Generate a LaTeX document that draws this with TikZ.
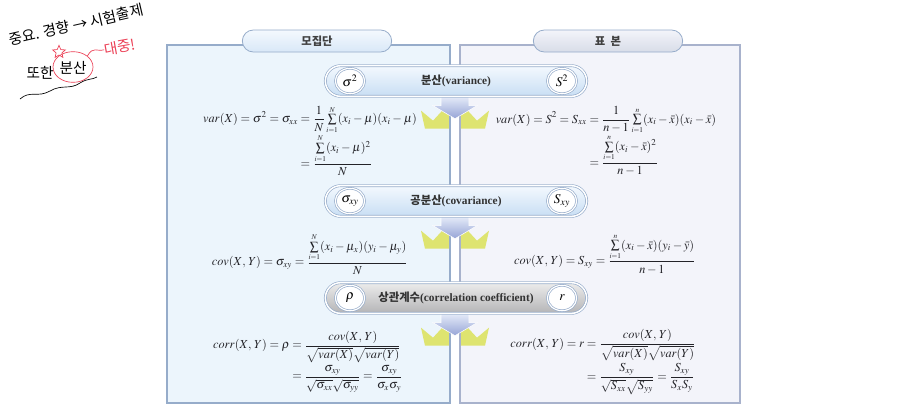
\documentclass[tikz,border=0pt]{standalone}
\usepackage{amsmath}
\usepackage{mathptmx}
\usepackage{fontspec}
\setmainfont{Liberation Serif}
\newfontfamily\kor{Noto Sans CJK KR}
\usetikzlibrary{
  shapes.geometric,
  shapes.misc,
  positioning,
  backgrounds,
  calc
}
\definecolor{PopFill}{RGB}{236,245,252}
\definecolor{PopEdge}{RGB}{150,172,202}
\definecolor{SampFill}{RGB}{243,244,250}
\definecolor{SampEdge}{RGB}{168,178,204}
\definecolor{PillTop}{RGB}{244,249,254}
\definecolor{PillBot}{RGB}{200,222,244}
\definecolor{GrayTop}{RGB}{236,236,236}
\definecolor{GrayBot}{RGB}{180,180,182}
\definecolor{CrownYel}{RGB}{222,228,112}
\definecolor{ArrTop}{RGB}{232,238,250}
\definecolor{ArrBot}{RGB}{150,164,214}
\definecolor{InkRed}{RGB}{236,64,86}
\definecolor{FmlInk}{RGB}{35,35,40}
\newcommand{\hfont}{\kor\fontsize{8.5}{10}\selectfont\bfseries}
\newcommand{\eng}[1]{{\rmfamily\bfseries #1}}
\newcommand{\smsum}[2]{\mathop{\textstyle\sum}\limits_{\scriptscriptstyle #1}^{\scriptscriptstyle #2}}
\tikzset{
  %% -- panels and tabs --
  popPanel/.style  = {fill = PopFill},
  sampPanel/.style = {fill = SampFill},
  tabbox/.style args = {#1/#2}{
    rounded rectangle, draw = PopEdge, line width = 0.6pt,
    top color = #1, bottom color = #2,
    minimum width = 112pt, minimum height = 16.5pt,
    font = \hfont, text = black!75
  },
  %% -- central pills --
  pillbox/.style args = {#1/#2}{
    rounded rectangle, draw = PopEdge, line width = 0.5pt,
    double = white, double distance = 1.1pt,
    top color = #1, bottom color = #2,
    minimum width = 196pt, minimum height = 23pt,
    font = \hfont, text = black!80
  },
  symbox/.style = {
    ellipse, draw = PopEdge, line width = 0.5pt,
    double = white, double distance = 0.9pt, fill = white,
    minimum width = 22pt, minimum height = 19pt,
    font = \fontsize{10}{12}\selectfont
  },
  %% -- formulas --
  fml/.style  = {font = \fontsize{9.2}{11}\selectfont, text = FmlInk},
  %% -- handwritten memo --
  memo/.style = {font = \kor\fontsize{11}{13}\selectfont},
}
%% yellow crown under a pill
\newcommand{\downflow}[1]{%
  \begin{scope}[shift={($(#1.south)+(-1,0)$)}]
    \fill[CrownYel] (-34,14) -- (-22,24) -- (-10,11) -- (0,19) -- (10,11)
      -- (22,24) -- (34,14) -- (30,32) -- (-30,32) -- cycle;
  \end{scope}}
%% arrow head under a pill
\newcommand{\downhead}[1]{%
  \begin{scope}[shift={($(#1.south)+(-1,0)$)}]
    \shade[top color = ArrTop, bottom color = ArrBot, draw = white, line width = 0.4pt]
      (-14,-1) -- (14,-1) -- (14,9) -- (22,9) -- (0,22) -- (-22,9) -- (-14,9) -- cycle;
  \end{scope}}

\begin{document}
\begin{tikzpicture}[x = 0.75pt, y = -0.75pt, every node/.style = {inner sep = 0pt}]

  \useasboundingbox (0,0) rectangle (921,411);

  %% -- central pills --
  \node[pillbox = {PillTop/PillBot}] (pvar) at (456,81)
    {분산\eng{(variance)}};
  \node[pillbox = {PillTop/PillBot}] (pcov) at (456,201)
    {공분산\eng{(covariance)}};
  \node[pillbox = {GrayTop/GrayBot}] (pcorr) at (456,298)
    {상관계수\eng{(correlation coefficient)}};

  \node[symbox] (svarP)  at (350,81)  {$\sigma^2$};
  \node[symbox] (svarS)  at (562,81)  {$S^2$};
  \node[symbox] (scovP)  at (350,201) {$\sigma_{xy}$};
  \node[symbox] (scovS)  at (562,201) {$S_{xy}$};
  \node[symbox] (scorrP) at (350,298) {$\rho$};
  \node[symbox] (scorrS) at (562,298) {$r$};

  \begin{scope}[on background layer]
    \fill[white] (0,0) rectangle (921,411);
    \fill[popPanel]  (167,45) rectangle (450,403);
    \fill[sampPanel] (460,45) rectangle (740,403);
    \foreach \p in {pvar, pcov, pcorr} {\downflow{\p}}
    \fill[white] (450,45) rectangle (460,403);
    \draw[PopEdge,  line width = 0.8pt] (167,45) rectangle (450,403);
    \draw[SampEdge, line width = 0.8pt] (460,45) rectangle (740,403);
    \foreach \p in {pvar, pcov, pcorr} {\downhead{\p}}
  \end{scope}

  %% -- tabs --
  \node[tabbox = {PillTop/PillBot!70}] (tpop)  at (317,41) {모집단};
  \node[tabbox = {SampFill/SampEdge!45}] (tsamp) at (608,41) {표\ \ 본};

  %% -- population formulas --
  \node[fml] (fvarP) at (310,141) {$\begin{aligned}
      var(X) = \sigma^2 = \sigma_{xx} &= \frac{1}{N}\smsum{i=1}{N}(x_i-\mu)(x_i-\mu)\\[-3pt]
      &= \frac{\smsum{i=1}{N}(x_i-\mu)^2}{N}
    \end{aligned}$};
  \node[fml] (fcovP) at (310,254) {$\displaystyle
      cov(X,\,Y) = \sigma_{xy} = \frac{\smsum{i=1}{N}(x_i-\mu_x)(y_i-\mu_y)}{N}$};
  \node[fml] (fcorrP) at (308,362) {$\begin{aligned}
      corr(X,\,Y) = \rho &= \frac{cov(X,\,Y)}{\sqrt{var(X)}\sqrt{var(Y)}}\\[-2pt]
      &= \frac{\sigma_{xy}}{\sqrt{\sigma_{xx}}\sqrt{\sigma_{yy}}} = \frac{\sigma_{xy}}{\sigma_x\sigma_y}
    \end{aligned}$};

  %% -- sample formulas --
  \node[fml] (fvarS) at (606,141) {$\begin{aligned}
      var(X) = S^2 = S_{xx} &= \frac{1}{n-1}\smsum{i=1}{n}(x_i-\bar{x})(x_i-\bar{x})\\[-3pt]
      &= \frac{\smsum{i=1}{n}(x_i-\bar{x})^2}{n-1}
    \end{aligned}$};
  \node[fml] (fcovS) at (605,254) {$\displaystyle
      cov(X,\,Y) = S_{xy} = \frac{\smsum{i=1}{n}(x_i-\bar{x})(y_i-\bar{y})}{n-1}$};
  \node[fml] (fcorrS) at (603,362) {$\begin{aligned}
      corr(X,\,Y) = r &= \frac{cov(X,\,Y)}{\sqrt{var(X)}\sqrt{var(Y)}}\\[-2pt]
      &= \frac{S_{xy}}{\sqrt{S_{xx}}\sqrt{S_{yy}}} = \frac{S_{xy}}{S_xS_y}
    \end{aligned}$};

  %% -- handwritten memo (top left) --
  \node[memo, rotate = 13] (mtop) at (76,25) {중요. 경향 → 시험출제};
  \node[memo] (mboth) at (40,73) {또한};
  \node[memo] (mvar)  at (73,68) {분산};
  \node[draw = InkRed, ellipse, minimum width = 30pt, minimum height = 23pt,
        line width = 0.5pt] (mring) at (73,67) {};
  \node[draw = InkRed, star, star points = 5, star point ratio = 2.2,
        minimum size = 10pt, line width = 0.5pt] (mstar) at (59,52) {};
  \node[memo, text = InkRed, rotate = 10] (mnote) at (120,47) {대중!};
  \draw[InkRed, line width = 0.5pt] (mring.north east) .. controls +(6,-10) and +(-8,2) .. (mnote.west);
  \draw[line width = 0.5pt] (20,99) .. controls (30,90) and (38,98) .. (50,91)
    .. controls (62,84) and (70,90) .. (80,83) .. controls (88,78) and (92,80) .. (97,77);

\end{tikzpicture}
\end{document}
